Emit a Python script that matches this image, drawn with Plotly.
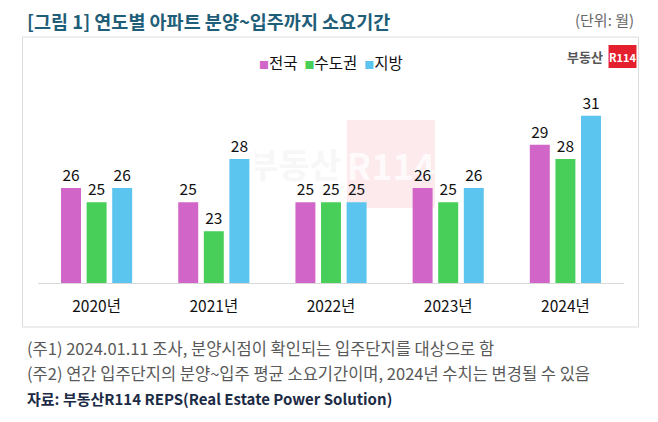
import base64
import plotly.graph_objects as go

years = ["2020년", "2021년", "2022년", "2023년", "2024년"]
series_names = ["전국", "수도권", "지방"]
nationwide = [26, 25, 25, 26, 29]
capital = [25, 23, 25, 25, 28]
regional = [26, 28, 25, 26, 31]
colors = ["#D266C8", "#47CF5A", "#5BC4EF"]

W, H = 658, 422
L, R, T, B = 37.5, 624.5, 100, 283  # plot area in pixels

def px(x):
    return (x - L) / (R - L)

def py(y):
    return (B - y) / (B - T)

FONT = "Noto Sans CJK KR"

fig = go.Figure()
for name, vals, col in zip(series_names, [nationwide, capital, regional], colors):
    fig.add_trace(go.Bar(
        x=years, y=vals, name=name, marker=dict(color=col, line=dict(width=0)),
        text=vals, textposition="outside", cliponaxis=False,
        textfont=dict(family=FONT, size=15.5, color="#111111"),
        showlegend=False, hoverinfo="skip",
    ))

# faint watermark as an SVG image placed below the bars
wx0, wy0, wx1, wy1 = 255, 112, 442, 212
svg = f"""<svg xmlns='http://www.w3.org/2000/svg' width='{wx1-wx0}' height='{wy1-wy0}'>
<rect x='92' y='8' width='88' height='88' fill='#FCEAED'/>
<text x='86' y='66' text-anchor='end' font-family='Noto Sans CJK KR' font-weight='bold' font-size='34' fill='#F7F7F7'>부동산</text>
<text x='136' y='68' text-anchor='middle' font-family='Noto Sans CJK KR' font-weight='bold' font-size='36' fill='#FFFFFF' fill-opacity='0.8'>R114</text>
</svg>"""
src = "data:image/svg+xml;base64," + base64.b64encode(svg.encode("utf-8")).decode()

shapes = [
    dict(type="rect", xref="paper", yref="paper", x0=px(22), x1=px(639), y0=py(327), y1=py(37),
         line=dict(color="#dcdcdc", width=1), fillcolor="rgba(0,0,0,0)", layer="below"),
    dict(type="rect", xref="paper", yref="paper", x0=px(609), x1=px(637), y0=py(68), y1=py(45),
         line=dict(width=0), fillcolor="#E5202E"),
]

sq = "<span style='font-size:10px;color:{}'>■</span>"
annotations = [
    dict(text="<b>[그림 1] 연도별 아파트 분양~입주까지 소요기간</b>", x=px(24), y=py(21), xanchor="left", yanchor="middle",
         font=dict(family=FONT, size=18.5, color="#1F5E78")),
    dict(text="(단위: 월)", x=px(637), y=py(20), xanchor="right", yanchor="middle",
         font=dict(family=FONT, size=15, color="#666666")),
    dict(text=sq.format(colors[0]) + "전국  " + sq.format(colors[1]) + "수도권  " + sq.format(colors[2]) + "지방",
         x=px(331), y=py(62), xanchor="center", yanchor="middle",
         font=dict(family=FONT, size=15.5, color="#111111")),
    dict(text="<b>부동산</b>", x=px(605), y=py(57), xanchor="right", yanchor="middle",
         font=dict(family=FONT, size=13, color="#555555")),
    dict(text="<b>R114</b>", x=px(623), y=py(57), xanchor="center", yanchor="middle",
         font=dict(family=FONT, size=11, color="#ffffff")),
    dict(text="(주1) 2024.01.11 조사, 분양시점이 확인되는 입주단지를 대상으로 함", x=px(24), y=py(348),
         xanchor="left", yanchor="middle", font=dict(family=FONT, size=16.5, color="#595959")),
    dict(text="(주2) 연간 입주단지의 분양~입주 평균 소요기간이며, 2024년 수치는 변경될 수 있음", x=px(24), y=py(373),
         xanchor="left", yanchor="middle", font=dict(family=FONT, size=16.5, color="#595959")),
    dict(text="<b>자료: 부동산R114 REPS(Real Estate Power Solution)</b>", x=px(24), y=py(398),
         xanchor="left", yanchor="middle", font=dict(family=FONT, size=15, color="#1C2B45")),
]
for a in annotations:
    a.update(xref="paper", yref="paper", showarrow=False)

fig.update_layout(
    width=W, height=H,
    margin=dict(l=L, r=W - R, t=T, b=H - B, autoexpand=False),
    paper_bgcolor="white", plot_bgcolor="rgba(0,0,0,0)",
    barmode="group", bargap=0.345, bargroupgap=0.22,
    font=dict(family=FONT, color="#111111"),
    shapes=shapes, annotations=annotations,
    images=[dict(source=src, xref="paper", yref="paper", x=px(wx0), y=py(wy0),
                 sizex=px(wx1) - px(wx0), sizey=(wy1 - wy0) / (B - T),
                 xanchor="left", yanchor="top", sizing="stretch", layer="below")],
    xaxis=dict(showline=True, linecolor="#d9d9d9", linewidth=1, ticks="", showgrid=False,
               ticklabelstandoff=9, tickfont=dict(family=FONT, size=15.5, color="#111111")),
    yaxis=dict(range=[19.4, 32.1], visible=False, showgrid=False),
)

fig.write_html("out.html", config={"displayModeBar": False},
               post_script="document.body.style.margin='0';document.body.style.overflow='hidden';")
